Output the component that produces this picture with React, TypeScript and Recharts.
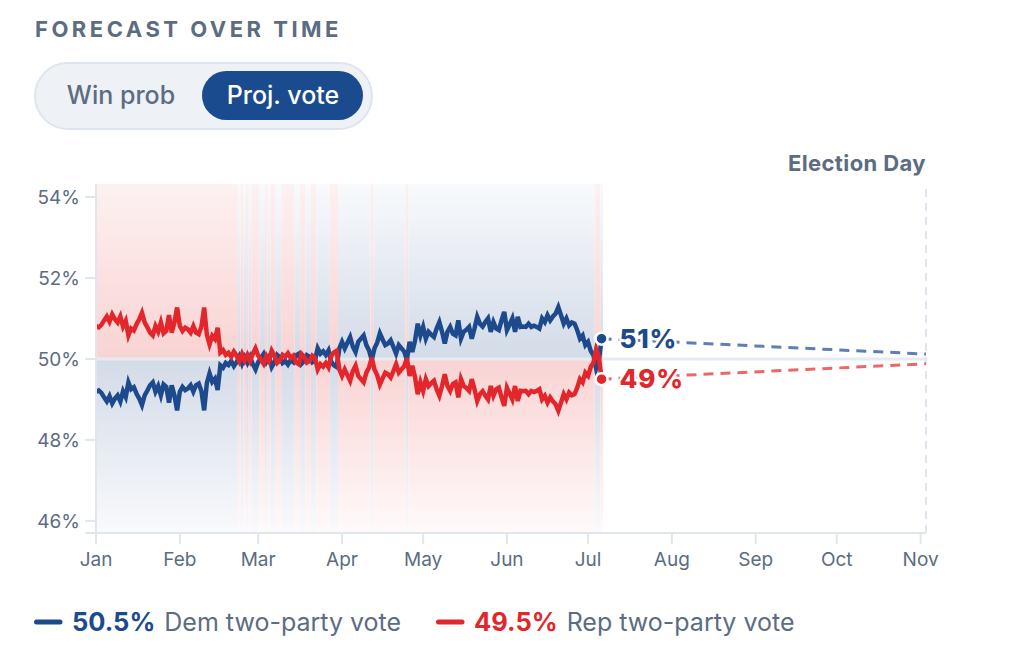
import React from "react";
import {
  ComposedChart,
  Line,
  XAxis,
  YAxis,
  ReferenceLine,
  ReferenceDot,
  ReferenceArea,
} from "recharts";

// Daily projected two-party vote share, starting Jan 1 (day 0)
const DEM_VOTE: number[] = [
  49.19, 49.22, 49.16, 49.05, 48.95, 49.08, 48.9, 49.02, 49.1, 48.95,
  49.2, 49.06, 49.42, 49.25, 49.3, 49.14, 49.02, 48.86, 49.1, 49.22,
  49.35, 49.42, 49.19, 49.33, 49.1, 49.37, 49.31, 48.92, 49.35, 49.1,
  48.73, 49.19, 49.31, 49.23, 49.27, 49.35, 49.19, 49.35, 49.39, 49.2,
  48.73, 49.4, 49.64, 49.43, 49.51, 49.23, 49.84, 49.78, 49.9, 49.85,
  49.95, 49.82, 49.92, 50.06, 49.88, 50.04, 49.9, 50.05, 49.87, 49.74,
  49.92, 50.02, 50.12, 49.93, 50.05, 49.8, 49.92, 50.1, 50.04, 49.9,
  49.95, 49.86, 49.97, 49.92, 50.09, 50.13, 49.88, 49.95, 50.09, 50.05,
  49.92, 49.97, 50.26, 50.13, 50.19, 50.1, 50.21, 49.93, 49.84, 49.8,
  50.26, 50.42, 50.26, 50.4, 50.54, 50.3, 50.17, 50.42, 50.5, 50.58,
  50.34, 50.21, 49.97, 50.26, 50.4, 50.63, 50.48, 50.34, 50.38, 50.46,
  50.3, 50.13, 50.34, 50.26, 50.18, 49.98, 50.42, 50.17, 50.45, 50.87,
  50.58, 50.79, 50.5, 50.67, 50.6, 50.54, 50.75, 50.91, 50.67, 50.38,
  50.67, 50.79, 50.62, 50.58, 50.95, 50.5, 50.67, 50.72, 50.79, 50.5,
  50.75, 51.04, 50.87, 50.8, 50.91, 51.0, 50.67, 50.91, 50.75, 50.71,
  50.95, 51.16, 50.71, 50.85, 51.0, 50.67, 51.04, 50.79, 50.8, 50.79,
  50.87, 50.79, 50.82, 50.79, 50.75, 51.0, 50.91, 51.08, 50.95, 51.05,
  51.12, 51.28, 51.08, 50.87, 51.0, 50.83, 50.9, 50.87, 50.71, 50.5,
  50.58, 50.34, 50.42, 50.2, 50.09, 49.76, 49.95, 50.5,
];

const REP_VOTE: number[] = [
  50.81, 50.78, 50.84, 50.95, 51.05, 50.92, 51.1, 50.98, 50.9, 51.05,
  50.8, 50.94, 50.58, 50.75, 50.7, 50.86, 50.98, 51.14, 50.9, 50.78,
  50.65, 50.58, 50.81, 50.67, 50.9, 50.63, 50.69, 51.08, 50.65, 50.9,
  51.27, 50.81, 50.69, 50.77, 50.73, 50.65, 50.81, 50.65, 50.61, 50.8,
  51.27, 50.6, 50.36, 50.57, 50.49, 50.77, 50.16, 50.22, 50.1, 50.15,
  50.05, 50.18, 50.08, 49.94, 50.12, 49.96, 50.1, 49.95, 50.13, 50.26,
  50.08, 49.98, 49.88, 50.07, 49.95, 50.2, 50.08, 49.9, 49.96, 50.1,
  50.05, 50.14, 50.03, 50.08, 49.91, 49.87, 50.12, 50.05, 49.91, 49.95,
  50.08, 50.03, 49.74, 49.87, 49.81, 49.9, 49.79, 50.07, 50.16, 50.2,
  49.74, 49.58, 49.74, 49.6, 49.46, 49.7, 49.83, 49.58, 49.5, 49.42,
  49.66, 49.79, 50.03, 49.74, 49.6, 49.37, 49.52, 49.66, 49.62, 49.54,
  49.7, 49.87, 49.66, 49.74, 49.82, 50.02, 49.58, 49.83, 49.55, 49.13,
  49.42, 49.21, 49.5, 49.33, 49.4, 49.46, 49.25, 49.09, 49.33, 49.62,
  49.33, 49.21, 49.38, 49.42, 49.05, 49.5, 49.33, 49.28, 49.21, 49.5,
  49.25, 48.96, 49.13, 49.2, 49.09, 49.0, 49.33, 49.09, 49.25, 49.29,
  49.05, 48.84, 49.29, 49.15, 49.0, 49.33, 48.96, 49.21, 49.2, 49.21,
  49.13, 49.21, 49.18, 49.21, 49.25, 49.0, 49.09, 48.92, 49.05, 48.95,
  48.88, 48.72, 48.92, 49.13, 49.0, 49.17, 49.1, 49.13, 49.29, 49.5,
  49.42, 49.66, 49.58, 49.8, 49.91, 50.24, 50.05, 49.5,
];

// Election Day projection (day offset and shares)
const ELECTION_DAY = 307;
const ELECTION_DEM = 50.12;
const ELECTION_REP = 49.88;

const END_LABELS = ["51%", "49%"];
const LEGEND_VALUES = ["50.5%", "49.5%"];
const LEGEND_NAMES = ["Dem two-party vote", "Rep two-party vote"];

const MONTH_TICKS = [0, 31, 60, 91, 121, 152, 182, 213, 244, 274, 305];
const MONTH_LABELS = ["Jan", "Feb", "Mar", "Apr", "May", "Jun", "Jul", "Aug", "Sep", "Oct", "Nov"];
const Y_TICKS = [46, 48, 50, 52, 54];
const Y_MIN = 45.7;
const Y_MAX = 54.32;

const BLUE = "#1c4a8d";
const RED = "#e3262b";
const BLUE_DASH = "#5d7fb6";
const RED_DASH = "#ec6868";
const GRID = "#e0e6ef";
const TEXT = "#5c6c82";
const FONT = "Inter, 'Noto Sans', sans-serif";

const LAST = DEM_VOTE.length - 1;

type Row = {
  day: number;
  dem?: number;
  rep?: number;
  demProj?: number;
  repProj?: number;
};

const rows: Row[] = DEM_VOTE.map((d, i) => ({ day: i, dem: d, rep: REP_VOTE[i] }));
rows[LAST].demProj = DEM_VOTE[LAST];
rows[LAST].repProj = REP_VOTE[LAST];
rows.push({ day: ELECTION_DAY, demProj: ELECTION_DEM, repProj: ELECTION_REP });

// Consecutive days with the same leader become one shaded band
type Run = { start: number; end: number; lead: "D" | "R" };
const leadRuns: Run[] = [];
DEM_VOTE.forEach((d, i) => {
  const lead = d >= REP_VOTE[i] ? "D" : "R";
  const prev = leadRuns[leadRuns.length - 1];
  if (prev && prev.lead === lead) prev.end = i;
  else leadRuns.push({ start: i, end: i, lead });
});

const MID = (Y_MAX - 50) / (Y_MAX - Y_MIN);

function EndLabel(props: any) {
  const { viewBox, text, color } = props;
  if (!viewBox) return null;
  const cx = viewBox.x + viewBox.width / 2;
  const cy = viewBox.y + viewBox.height / 2;
  return (
    <text
      x={cx + 18}
      y={cy + 9}
      fill={color}
      fontSize={26}
      fontWeight={800}
      letterSpacing={0.8}
      fontFamily={FONT}
      stroke="#fff"
      strokeWidth={5}
      paintOrder="stroke"
      strokeLinejoin="round"
    >
      {text}
    </text>
  );
}

function ElectionLabel(props: any) {
  const { viewBox } = props;
  if (!viewBox) return null;
  return (
    <text
      x={viewBox.x}
      y={viewBox.y - 13}
      textAnchor="end"
      fill={TEXT}
      fontSize={22}
      fontWeight={700}
      letterSpacing={0.4}
      fontFamily={FONT}
    >
      Election Day
    </text>
  );
}

function Header() {
  return (
    <svg
      width={1024}
      height={662}
      style={{ position: "absolute", left: 0, top: 0, pointerEvents: "none" }}
    >
      <text x={35} y={36.7} fill={TEXT} fontSize={22} fontWeight={700} letterSpacing={3.5} fontFamily={FONT}>
        FORECAST OVER TIME
      </text>
      <rect x={35} y={63} width={337} height={66} rx={33} fill="#eef1f6" stroke="#dfe5ee" strokeWidth={2} />
      <rect x={202} y={71} width={161} height={49} rx={24.5} fill="#1b4b8f" />
      <text x={121} y={104} textAnchor="middle" fill={TEXT} fontSize={25} fontWeight={500} fontFamily={FONT}>
        Win prob
      </text>
      <text x={283} y={104} textAnchor="middle" fill="#fff" fontSize={25} fontWeight={500} fontFamily={FONT}>
        Proj. vote
      </text>
      {[0, 1].map((i) => {
        const x0 = i === 0 ? 34 : 436;
        const color = i === 0 ? BLUE : RED;
        return (
          <g key={i}>
            <line x1={x0 + 2.5} y1={622} x2={x0 + 26} y2={622} stroke={color} strokeWidth={5} strokeLinecap="round" />
            <text x={x0 + 38} y={631} fill={color} fontSize={25.5} fontWeight={700} fontFamily={FONT}>
              {LEGEND_VALUES[i]}
              <tspan dx={9} fill={TEXT} fontWeight={400} fontSize={25}>
                {LEGEND_NAMES[i]}
              </tspan>
            </text>
          </g>
        );
      })}
    </svg>
  );
}

export default function App() {
  return (
    <div style={{ position: "absolute", left: 0, top: 0, width: 1024, height: 662, background: "#fff" }}>
      <ComposedChart
        width={1024}
        height={662}
        data={rows}
        margin={{ top: 184, right: 98, left: 36, bottom: 89 }}
      >
        <defs>
          <linearGradient id="demLeads" x1="0" y1="0" x2="0" y2="1">
            <stop offset="0" stopColor="#f8fafc" />
            <stop offset={MID} stopColor="#d3dbe8" />
            <stop offset={MID} stopColor="#f9d3d3" />
            <stop offset="1" stopColor="#fffafa" />
          </linearGradient>
          <linearGradient id="repLeads" x1="0" y1="0" x2="0" y2="1">
            <stop offset="0" stopColor="#fdf1f1" />
            <stop offset={MID} stopColor="#f9d3d3" />
            <stop offset={MID} stopColor="#d3dbe8" />
            <stop offset="1" stopColor="#f9fafc" />
          </linearGradient>
        </defs>
        <XAxis
          dataKey="day"
          type="number"
          domain={[0, ELECTION_DAY]}
          ticks={MONTH_TICKS}
          interval={0}
          tickFormatter={(v: number) => MONTH_LABELS[MONTH_TICKS.indexOf(v)] ?? ""}
          height={40}
          axisLine={{ stroke: GRID, strokeWidth: 2 }}
          tickLine={{ stroke: GRID, strokeWidth: 2 }}
          tickSize={11}
          tickMargin={9}
          tick={{ fill: TEXT, fontSize: 19, fontFamily: FONT }}
        />
        <YAxis
          type="number"
          domain={[Y_MIN, Y_MAX]}
          ticks={Y_TICKS}
          interval={0}
          allowDataOverflow
          width={60}
          tickFormatter={(v: number) => `${v}%`}
          axisLine={{ stroke: GRID, strokeWidth: 2 }}
          tickLine={{ stroke: GRID, strokeWidth: 2 }}
          tickSize={11}
          tickMargin={5}
          tick={{ fill: TEXT, fontSize: 19, fontFamily: FONT }}
        />
        {leadRuns.map((r, i) => (
          <ReferenceArea
            key={i}
            x1={Math.max(0, r.start - 0.5)}
            x2={r.end + 0.5}
            y1={Y_MIN}
            y2={Y_MAX}
            fill={r.lead === "D" ? "url(#demLeads)" : "url(#repLeads)"}
            fillOpacity={1}
            stroke="none"
            ifOverflow="extendDomain"
          />
        ))}
        <ReferenceLine y={50} stroke="#e6ebf2" strokeWidth={3} />
        <ReferenceLine
          segment={[
            { x: -4, y: Y_MIN },
            { x: 0, y: Y_MIN },
          ]}
          stroke={GRID}
          strokeWidth={2}
          ifOverflow="visible"
        />
        <ReferenceLine
          x={ELECTION_DAY}
          stroke={GRID}
          strokeWidth={2}
          strokeDasharray="8 6"
          label={<ElectionLabel />}
        />
        <Line
          dataKey="demProj"
          stroke={BLUE_DASH}
          strokeWidth={3}
          strokeDasharray="10 7"
          dot={false}
          connectNulls
          isAnimationActive={false}
        />
        <Line
          dataKey="repProj"
          stroke={RED_DASH}
          strokeWidth={3}
          strokeDasharray="10 7"
          dot={false}
          connectNulls
          isAnimationActive={false}
        />
        <Line dataKey="dem" stroke={BLUE} strokeWidth={4.5} dot={false} isAnimationActive={false} />
        <Line dataKey="rep" stroke={RED} strokeWidth={4.5} dot={false} isAnimationActive={false} />
        <ReferenceDot
          x={LAST}
          y={DEM_VOTE[LAST]}
          r={6}
          fill={BLUE}
          stroke="#fff"
          strokeWidth={2.5}
          label={<EndLabel text={END_LABELS[0]} color={BLUE} />}
        />
        <ReferenceDot
          x={LAST}
          y={REP_VOTE[LAST]}
          r={6}
          fill={RED}
          stroke="#fff"
          strokeWidth={2.5}
          label={<EndLabel text={END_LABELS[1]} color={RED} />}
        />
      </ComposedChart>
      <Header />
    </div>
  );
}
